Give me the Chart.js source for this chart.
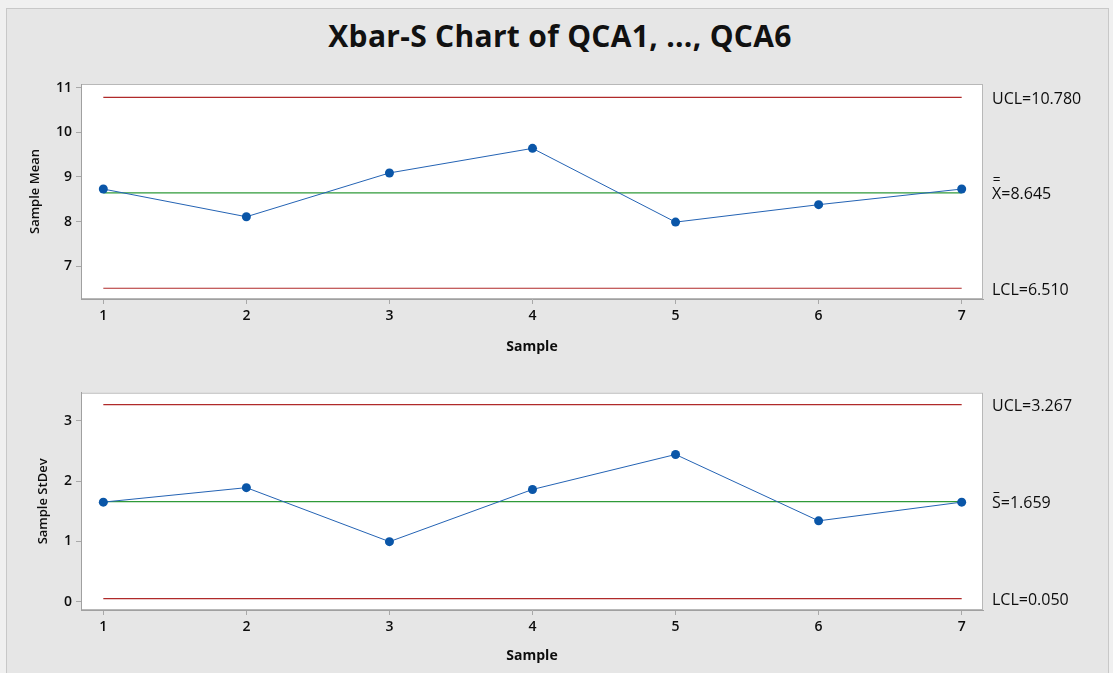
<!DOCTYPE html>
<html>
<head>
<meta charset="utf-8">
<script src="https://cdn.jsdelivr.net/npm/chart.js@4/dist/chart.umd.min.js"></script>
<style>
  html, body { margin: 0; padding: 0; background: #f0f0f0; overflow: hidden; }
  #frame { position: absolute; left: 6px; top: 8px; width: 1101px; height: 680px;
           background: #e6e6e6; border: 1px solid #c8c8c8; }
  #title { position: absolute; left: 0; top: 21px; width: 1120px; text-align: center;
           font: 700 30px/30px "Open Sans", sans-serif; color: #111; letter-spacing: 0.3px; }
  .pane { position: absolute; left: 0; width: 1113px; }
  #paneMean { top: 0; height: 365px; }
  #paneSd { top: 365px; height: 308px; }
</style>
</head>
<body>
<div id="frame"></div>
<div id="title">Xbar-S Chart of QCA1, ..., QCA6</div>
<div class="pane" id="paneMean"><canvas id="cMean" width="1113" height="365"></canvas></div>
<div class="pane" id="paneSd"><canvas id="cSd" width="1113" height="308"></canvas></div>

<script>
// Subgroup numbers and per-subgroup statistics
const samples = [1, 2, 3, 4, 5, 6, 7];
const sampleMeans = [8.73, 8.11, 9.09, 9.64, 7.99, 8.38, 8.73];
const sampleStDevs = [1.65, 1.89, 0.995, 1.86, 2.44, 1.34, 1.65];

// Control limits: [UCL, center line, LCL]
const meanLimits = [10.780, 8.645, 6.510];
const sdLimits = [3.267, 1.659, 0.050];

// Axis tick values
const sampleTicks = [1, 2, 3, 4, 5, 6, 7];
const meanTicks = [7, 8, 9, 10, 11];
const sdTicks = [0, 1, 2, 3];

const FONT = '"Open Sans", sans-serif';
const TEXT = '#0d0d0d';
const LIMIT_RED = '#b02a2a';
const CENTER_GREEN = '#2f9a38';
const LINE_BLUE = '#2463b4';
const POINT_BLUE = '#0a56a8';

function limitLine(value, color) {
  return {
    type: 'line',
    data: [{ x: samples[0], y: value }, { x: samples[samples.length - 1], y: value }],
    borderColor: color, borderWidth: 1.2, pointRadius: 0, fill: false, order: 2
  };
}

// White plotting area with a thin frame
const plotFrame = {
  id: 'plotFrame',
  beforeDraw(chart) {
    const { ctx, chartArea: a } = chart;
    ctx.save();
    ctx.fillStyle = '#ffffff';
    ctx.fillRect(a.left, a.top, a.right - a.left, a.bottom - a.top);
    ctx.strokeStyle = '#b8b8b8';
    ctx.lineWidth = 1;
    ctx.strokeRect(a.left + 0.5, a.top + 0.5, a.right - a.left - 1, a.bottom - a.top - 1);
    ctx.restore();
  }
};

// Limit annotations to the right of the plot; barOffsets place the bar(s) over the statistic symbol
function limitLabels(limits, symbol, barOffsets) {
  return {
    id: 'limitLabels',
    afterDraw(chart) {
      const { ctx, chartArea: a } = chart;
      const y = chart.scales.y;
      const x0 = a.right + 9;
      ctx.save();
      ctx.font = '16px ' + FONT;
      ctx.fillStyle = TEXT;
      ctx.textAlign = 'left';
      ctx.textBaseline = 'middle';
      const texts = [
        'UCL=' + limits[0].toFixed(3),
        symbol + '=' + limits[1].toFixed(3),
        'LCL=' + limits[2].toFixed(3)
      ];
      texts.forEach((t, i) => {
        const py = y.getPixelForValue(limits[i]) + 2;
        ctx.fillText(t, x0, py);
        if (i === 1) {
          const w = ctx.measureText(symbol).width;
          ctx.strokeStyle = TEXT;
          ctx.lineWidth = 1;
          barOffsets.forEach(off => {
            const by = Math.round(py - off) + 0.5;
            ctx.beginPath();
            ctx.moveTo(x0 + 1.5, by);
            ctx.lineTo(x0 + w - 1.5, by);
            ctx.stroke();
          });
        }
      });
      ctx.restore();
    }
  };
}

function buildChart(canvasId, values, limits, yMin, yMax, yTicks, yTitle, yTitlePad, geom, symbol, barOffsets) {
  return new Chart(document.getElementById(canvasId), {
    data: {
      datasets: [
        limitLine(limits[0], LIMIT_RED),
        limitLine(limits[1], CENTER_GREEN),
        limitLine(limits[2], LIMIT_RED),
        {
          type: 'line',
          data: samples.map((s, i) => ({ x: s, y: values[i] })),
          borderColor: LINE_BLUE, borderWidth: 1,
          pointRadius: 4.5, pointHoverRadius: 4.5,
          pointBackgroundColor: POINT_BLUE, pointBorderColor: POINT_BLUE, pointBorderWidth: 0,
          tension: 0, fill: false, order: 1
        }
      ]
    },
    options: {
      responsive: false,
      animation: false,
      events: [],
      layout: { padding: { top: geom.top, right: 130, left: 0, bottom: 0 } },
      plugins: { legend: { display: false }, tooltip: { enabled: false }, title: { display: false } },
      scales: {
        x: {
          type: 'linear', position: 'bottom',
          min: 0.844, max: 7.149,
          afterBuildTicks: s => { s.ticks = sampleTicks.map(v => ({ value: v })); },
          afterFit: s => { s.height = geom.xHeight; },
          ticks: { font: { family: FONT, size: 14, weight: '600' }, color: TEXT, padding: 4, maxRotation: 0 },
          grid: { drawOnChartArea: false, drawTicks: true, tickLength: 5, color: '#a8a8a8' },
          border: { color: '#a0a0a0', width: 1 },
          title: { display: true, text: 'Sample', color: TEXT,
                   font: { family: FONT, size: 14, weight: 'bold' },
                   padding: { top: 0, bottom: geom.xTitlePad } }
        },
        y: {
          type: 'linear', position: 'left',
          min: yMin, max: yMax,
          afterBuildTicks: s => { s.ticks = yTicks.map(v => ({ value: v })); },
          afterFit: s => { s.width = 81; },
          ticks: { font: { family: FONT, size: 14, weight: '600' }, color: TEXT, padding: 4 },
          grid: { drawOnChartArea: false, drawTicks: true, tickLength: 5, color: '#a8a8a8' },
          border: { color: '#a0a0a0', width: 1 },
          title: { display: true, text: yTitle, color: TEXT,
                   font: { family: FONT, size: 13, weight: '600' },
                   padding: { top: yTitlePad, bottom: 0 } }
        }
      }
    },
    plugins: [plotFrame, limitLabels(limits, symbol, barOffsets)]
  });
}

buildChart('cMean', sampleMeans, meanLimits, 6.27, 11.08, meanTicks, 'Sample Mean', 27.2,
           { top: 84, xHeight: 66, xTitlePad: 9.6 }, 'X', [15, 17.5]);
buildChart('cSd', sampleStDevs, sdLimits, -0.138, 3.464, sdTicks, 'Sample StDev', 35.2,
           { top: 27.7, xHeight: 63, xTitlePad: 8.6 }, 'S', [11.5]);
</script>
</body>
</html>
